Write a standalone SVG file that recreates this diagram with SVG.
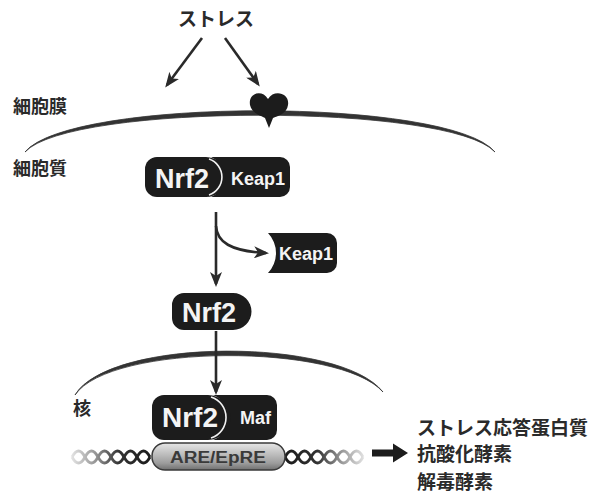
<svg xmlns="http://www.w3.org/2000/svg" width="593" height="495" viewBox="0 0 593 495">
  <style>
    .jp { font-family: "Noto Sans CJK JP", "Noto Sans CJK SC", sans-serif; font-weight: bold; fill: #2a2a2a; }
    .prot { fill: #1c1c1c; }
    .gap { fill: none; stroke: #f2f2f2; stroke-width: 1.6; }
    .lbl { font-family: "Liberation Sans", Arial, sans-serif; font-weight: bold; fill: #f4f4f4; }
    .conn { fill: none; stroke: #2a2a2a; stroke-width: 2.6; marker-end: url(#ah); }
    .mem { fill: #333; stroke: #333; stroke-width: 0.8; stroke-linejoin: round; }
  </style>
  <defs>
    <marker id="ah" markerUnits="userSpaceOnUse" markerWidth="16" markerHeight="12" refX="12" refY="6" orient="auto">
      <path d="M0,0 L15,6 L0,12 L4,6 Z" fill="#2a2a2a"/>
    </marker>
    <linearGradient id="cyl" x1="0" y1="0" x2="0" y2="1">
      <stop offset="0" stop-color="#e6e6e6"/>
      <stop offset="0.35" stop-color="#c4c4c4"/>
      <stop offset="0.75" stop-color="#9c9c9c"/>
      <stop offset="1" stop-color="#707070"/>
    </linearGradient>
    <linearGradient id="dnaL" gradientUnits="userSpaceOnUse" x1="70" y1="0" x2="152" y2="0">
      <stop offset="0" stop-color="#e8e8e8"/>
      <stop offset="0.3" stop-color="#999"/>
      <stop offset="0.6" stop-color="#333"/>
      <stop offset="1" stop-color="#1a1a1a"/>
    </linearGradient>
    <linearGradient id="dnaR" gradientUnits="userSpaceOnUse" x1="285" y1="0" x2="366" y2="0">
      <stop offset="0" stop-color="#1a1a1a"/>
      <stop offset="0.4" stop-color="#333"/>
      <stop offset="0.7" stop-color="#999"/>
      <stop offset="1" stop-color="#e8e8e8"/>
    </linearGradient>
  </defs>

  <!-- compartment labels -->
  <text class="jp" x="216" y="26" font-size="19" text-anchor="middle">ストレス</text>
  <text class="jp" x="13" y="113" font-size="18">細胞膜</text>
  <text class="jp" x="13" y="175" font-size="18">細胞質</text>
  <text class="jp" x="73" y="415" font-size="18">核</text>

  <!-- cell membrane with receptor -->
  <g id="cell-membrane">
    <path class="mem" d="M25,152 C70,97 450,97 495,152 C450,103 70,103 25,152 Z"/>
    <path class="prot" d="M268,99 C262,89 248,93 250,105 C252,114 262,116 265,118 L269,128 L273,118 C277,116 287,114 288,105 C290,93 274,89 268,99 Z"/>
  </g>

  <!-- nuclear envelope -->
  <g id="nuclear-membrane">
    <path class="mem" d="M75,395 C110,337 340,337 383,392 C340,343 110,343 75,395 Z"/>
  </g>

  <!-- Nrf2–Keap1 complex in the cytoplasm -->
  <g id="nrf2-keap1">
    <path class="prot" d="M211,157 H280 A10,10 0 0 1 290,167 V187 A10,10 0 0 1 280,197 H211 A22,22 0 0 0 211,157 Z"/>
    <path class="prot" d="M157,157 H206 A20,20 0 0 1 206,197 H157 A12,12 0 0 1 145,185 V169 A12,12 0 0 1 157,157 Z"/>
    <path class="gap" d="M209,159 A19,19 0 0 1 209,195"/>
    <text class="lbl" x="155" y="188" font-size="27">Nrf2</text>
    <text class="lbl" x="231" y="185" font-size="18">Keap1</text>
  </g>

  <!-- released Keap1 -->
  <g id="keap1">
    <path class="prot" d="M268,233 H327 A10,10 0 0 1 337,243 V263 A10,10 0 0 1 327,273 H268 A29,29 0 0 0 268,233 Z"/>
    <text class="lbl" x="279" y="260" font-size="18">Keap1</text>
  </g>

  <!-- free Nrf2 -->
  <g id="nrf2">
    <path class="prot" d="M184,293 H233 A18.5,18.5 0 0 1 233,330 H184 A12,12 0 0 1 172,318 V305 A12,12 0 0 1 184,293 Z"/>
    <text class="lbl" x="182" y="322" font-size="27">Nrf2</text>
  </g>

  <!-- DNA helix on both sides of the element -->
  <g id="dna" fill="none" stroke-width="2.8">
    <path stroke="url(#dnaL)" d="M72,457 q6.5,-12 13,0 t13,0 t13,0 t13,0 t13,0 t13,0"/>
    <path stroke="url(#dnaL)" d="M72,457 q6.5,12 13,0 t13,0 t13,0 t13,0 t13,0 t13,0"/>
    <path stroke="url(#dnaR)" d="M285,457 q6.5,-12 13,0 t13,0 t13,0 t13,0 t13,0 t13,0"/>
    <path stroke="url(#dnaR)" d="M285,457 q6.5,12 13,0 t13,0 t13,0 t13,0 t13,0 t13,0"/>
  </g>

  <!-- ARE/EpRE element -->
  <g id="are-epre">
    <rect x="152" y="443" width="133" height="27" rx="13" fill="url(#cyl)" stroke="#3a3a3a" stroke-width="1.5"/>
    <text x="218" y="463" font-size="16" text-anchor="middle" font-family="Liberation Sans, Arial, sans-serif" font-weight="bold" fill="#3a3a3a" textLength="96" lengthAdjust="spacingAndGlyphs">ARE/EpRE</text>
  </g>

  <!-- Nrf2–Maf complex bound to DNA -->
  <g id="nrf2-maf">
    <path class="prot" d="M213,395 H267 A10,10 0 0 1 277,405 V430 A10,10 0 0 1 267,440 H213 A24,24 0 0 0 213,395 Z"/>
    <path class="prot" d="M164,395 H208 A22.5,22.5 0 0 1 208,440 H164 A12,12 0 0 1 152,428 V407 A12,12 0 0 1 164,395 Z"/>
    <path class="gap" d="M211,397 A21.5,21.5 0 0 1 211,438"/>
    <text class="lbl" x="162" y="427" font-size="28">Nrf2</text>
    <text class="lbl" x="240" y="424" font-size="18">Maf</text>
  </g>

  <!-- target genes -->
  <g id="targets">
    <text class="jp" x="417" y="435" font-size="19">ストレス応答蛋白質</text>
    <text class="jp" x="417" y="461" font-size="19">抗酸化酵素</text>
    <text class="jp" x="417" y="489" font-size="19">解毒酵素</text>
  </g>

  <!-- connectors -->
  <g id="connectors">
    <path class="conn" d="M202,38 L167,85"/>
    <path class="conn" d="M225,38 L258,84"/>
    <path class="conn" d="M216,212 L216,284"/>
    <path class="conn" d="M216,226 C217,242 230,251 266,253"/>
    <path class="conn" d="M216,331 L216,392"/>
    <polygon points="372,449.5 393,449.5 393,443.5 408,453 393,462.5 393,456.5 372,456.5" fill="#1c1c1c"/>
  </g>
</svg>
